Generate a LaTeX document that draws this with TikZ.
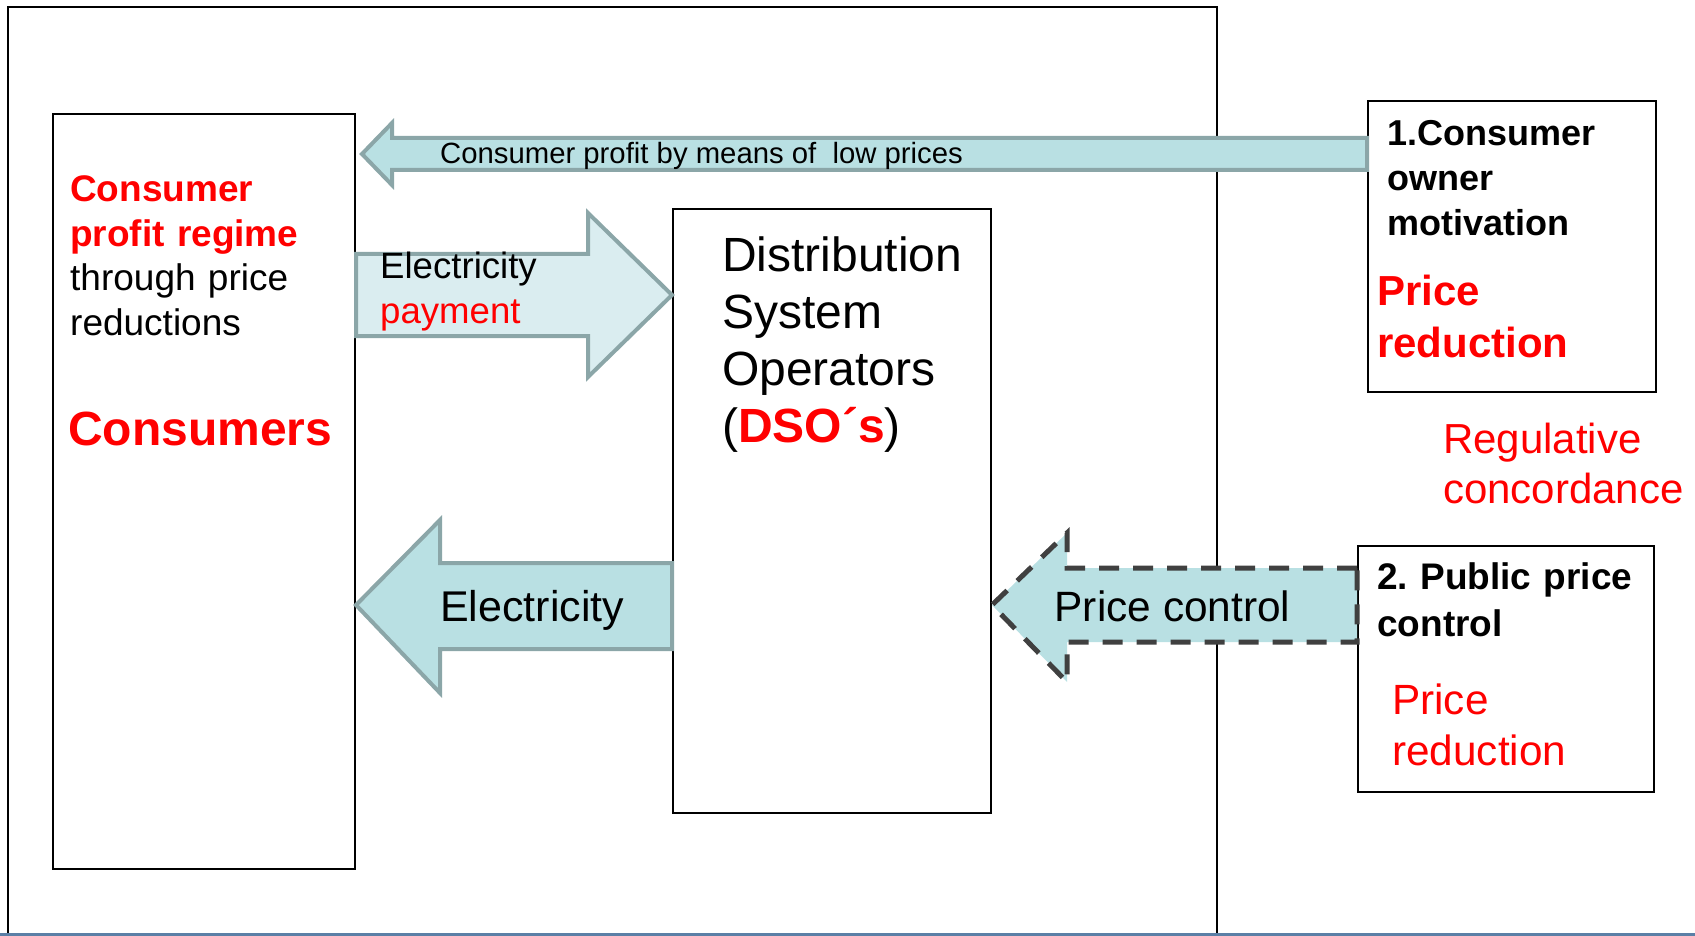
\documentclass[tikz,border=0pt]{standalone}
\usepackage{fontspec}
\setmainfont{Liberation Sans}
\usetikzlibrary{calc}
\definecolor{arrowfill}{RGB}{185,224,227}
\definecolor{payfill}{RGB}{218,237,240}
\definecolor{arrowline}{RGB}{139,166,168}
\definecolor{dashline}{RGB}{64,64,64}
\definecolor{frameblue}{RGB}{91,127,166}
\tikzset{
  box/.style={draw, line width=2pt, anchor=north west, inner sep=0pt},
  blockarrow/.style={draw=arrowline, fill=arrowfill, line width=4pt},
  dasharrow/.style={draw=dashline, fill=arrowfill, line width=5pt, dash pattern=on 20pt off 14pt},
  txt/.style={anchor=base west, inner sep=0pt},
  para/.style={txt, align=left, text width=#1},
  para/.default=400pt,
}
\newcommand\setfs[2]{\fontsize{#1}{#2}\selectfont}
\frenchspacing

\begin{document}
\begin{tikzpicture}[x=1pt, y=-1pt]
  \useasboundingbox (0,0) rectangle (1695,936);

  % Frame
  \draw[line width=2pt] (7.5,936) |- (1217,7.5) -- (1217,936);
  \draw[frameblue, line width=3pt] (0,934.5) -- (1695,934.5);

  % Boxes
  \node[box, minimum width=302pt, minimum height=755pt] (consumers) at (52,113) {};
  \node[box, minimum width=318pt, minimum height=604pt] (dso) at (672,208) {};
  \node[box, minimum width=288pt, minimum height=291pt] (owner) at (1367,100) {};
  \node[box, minimum width=296pt, minimum height=246pt] (public) at (1357,545) {};

  % Arrows
  \draw[blockarrow] (owner.west |- 0,138) -- (392,138) -- (392,123) -- ($(consumers.east |- 0,154)+(6,0)$)
    -- (392,185) -- (392,170) -- (owner.west |- 0,170) -- cycle;
  \draw[blockarrow, fill=payfill] (consumers.east |- 0,254) -- (588,254) -- (588,213) -- (dso.west |- 0,295)
    -- (588,377) -- (588,336) -- (consumers.east |- 0,336) -- cycle;
  \draw[blockarrow] (dso.west |- 0,563) -- (440,563) -- (440,520) -- (consumers.east |- 0,605)
    -- (440,693) -- (440,649) -- (dso.west |- 0,649) -- cycle;
  \draw[dasharrow] (public.west |- 0,568) -- (1067,568) -- (1067,533) -- (dso.east |- 0,605)
    -- (1067,682) -- (1067,642) -- (public.west |- 0,642) -- cycle;

  % Labels
  \node[txt, font=\setfs{29.3}{35}] (profitlbl) at (440,164) {Consumer profit by means of\ \ low prices};
  \node[para, font=\setfs{37}{44.5}] (regime) at (70,201.7)
    {\textcolor{red}{\bfseries Consumer}\\\textcolor{red}{\bfseries profit regime}\\through price\\reductions};
  \node[txt, font=\setfs{48}{57}\bfseries, text=red] (consumerslbl) at (68,445) {Consumers};
  \node[para, font=\setfs{36.6}{45}] (paylbl) at (380,278) {Electricity\\\textcolor{red}{payment}};
  \node[para, font=\setfs{48}{57}] (dsolbl) at (722,271.7)
    {Distribution\\System\\Operators\\(\textcolor{red}{\bfseries DSO´s})};
  \node[txt, font=\setfs{43}{52}] (eleclbl) at (440,621.7) {Electricity};
  \node[txt, font=\setfs{42.4}{51}] (ctrllbl) at (1054.5,621.7) {Price control};
  \node[para, font=\setfs{36}{45}\bfseries] (ownerlbl) at (1387,145.7) {1.Consumer\\owner\\motivation};
  \node[para, font=\setfs{42}{52}\bfseries, text=red] (ownerprice) at (1377,305) {Price\\reduction};
  \node[para, font=\setfs{42}{49.5}, text=red] (concord) at (1443,453.7) {Regulative\\concordance};
  \node[para, font=\setfs{37}{46.5}\bfseries] (publiclbl) at (1377,589.7) {2. Public price\\control};
  \node[para, font=\setfs{42.3}{51}, text=red] (publicprice) at (1392,714.5) {Price\\reduction};
\end{tikzpicture}
\end{document}
